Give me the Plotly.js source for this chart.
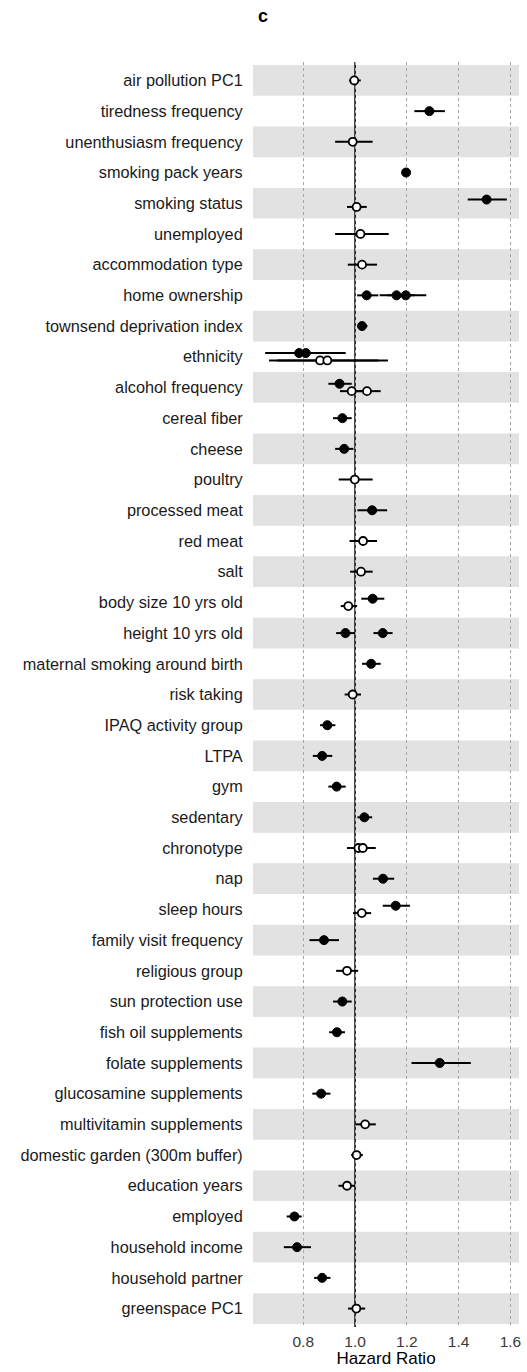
<!DOCTYPE html>
<html>
<head>
<meta charset="utf-8">
<script src="https://cdn.plot.ly/plotly-3.0.1.min.js"></script>
<style>
html,body{margin:0;padding:0;background:#fff;}
#chart{width:527px;height:1372px;}
</style>
</head>
<body>
<div id="chart"></div>
<script>
// Categories (top to bottom)
const categories = [
  "air pollution PC1","tiredness frequency","unenthusiasm frequency","smoking pack years",
  "smoking status","unemployed","accommodation type","home ownership",
  "townsend deprivation index","ethnicity","alcohol frequency","cereal fiber","cheese",
  "poultry","processed meat","red meat","salt","body size 10 yrs old","height 10 yrs old",
  "maternal smoking around birth","risk taking","IPAQ activity group","LTPA","gym",
  "sedentary","chronotype","nap","sleep hours","family visit frequency","religious group",
  "sun protection use","fish oil supplements","folate supplements","glucosamine supplements",
  "multivitamin supplements","domestic garden (300m buffer)","education years","employed",
  "household income","household partner","greenspace PC1"
];

// One entry per estimate
const pointCategory = [
  "air pollution PC1","tiredness frequency","unenthusiasm frequency","smoking pack years",
  "smoking status","smoking status","unemployed","accommodation type",
  "home ownership","home ownership","home ownership","townsend deprivation index",
  "ethnicity","ethnicity","ethnicity","ethnicity",
  "alcohol frequency","alcohol frequency","alcohol frequency","cereal fiber","cheese",
  "poultry","processed meat","red meat","salt",
  "body size 10 yrs old","body size 10 yrs old","height 10 yrs old","height 10 yrs old",
  "maternal smoking around birth","risk taking","IPAQ activity group","LTPA","gym",
  "sedentary","chronotype","chronotype","nap","sleep hours","sleep hours",
  "family visit frequency","religious group","sun protection use","fish oil supplements",
  "folate supplements","glucosamine supplements","multivitamin supplements",
  "domestic garden (300m buffer)","education years","employed","household income",
  "household partner","greenspace PC1"
];
const pointHR = [
  0.997,1.287,0.991,1.197,
  1.508,1.006,1.021,1.027,
  1.045,1.160,1.196,1.027,
  0.784,0.810,0.865,0.893,
  0.940,0.987,1.046,0.951,0.958,
  0.999,1.066,1.031,1.023,
  1.068,0.974,0.963,1.107,
  1.062,0.991,0.893,0.873,0.929,
  1.036,1.013,1.030,1.108,1.157,1.026,
  0.880,0.969,0.951,0.930,
  1.327,0.869,1.039,
  1.006,0.969,0.766,0.776,
  0.873,1.005
];
const pointLow = [
  0.977,1.229,0.923,1.190,
  1.435,0.969,0.923,0.972,
  1.008,1.095,1.125,1.013,
  0.653,0.680,0.668,0.700,
  0.897,0.942,0.995,0.915,0.923,
  0.937,1.009,0.979,0.981,
  1.024,0.945,0.927,1.071,
  1.027,0.960,0.865,0.837,0.897,
  1.009,0.969,0.985,1.069,1.107,0.992,
  0.824,0.927,0.915,0.900,
  1.218,0.835,1.001,
  0.985,0.936,0.736,0.725,
  0.842,0.973
];
const pointHigh = [
  1.022,1.347,1.068,1.205,
  1.586,1.045,1.130,1.085,
  1.090,1.230,1.275,1.048,
  0.930,0.964,1.090,1.127,
  0.987,1.030,1.099,0.987,0.994,
  1.068,1.124,1.085,1.068,
  1.113,1.008,1.000,1.145,
  1.099,1.023,0.924,0.912,0.964,
  1.066,1.060,1.080,1.151,1.212,1.062,
  0.938,1.012,0.987,0.961,
  1.447,0.905,1.080,
  1.030,1.000,0.794,0.830,
  0.905,1.039
];
// 1 = significant (filled), 0 = not significant (open)
const pointSig = [
  0,1,0,1,
  1,0,0,0,
  1,1,1,1,
  1,1,0,0,
  1,0,0,1,1,
  0,1,0,0,
  1,0,1,1,
  1,0,1,1,1,
  1,0,0,1,1,0,
  1,0,1,1,
  1,1,0,
  0,0,1,1,
  1,0
];
const xTicks = [0.8, 1.0, 1.2, 1.4, 1.6];
const xTickText = ["0.8", "1.0", "1.2", "1.4", "1.6"];

// --- build ---
const rowIndex = {};
categories.forEach((c, i) => rowIndex[c] = i);
const mixed = {};
categories.forEach(c => {
  const s = new Set();
  pointCategory.forEach((pc, k) => { if (pc === c) s.add(pointSig[k]); });
  mixed[c] = s.size > 1;
});
const DODGE = 0.12;
function buildTrace(sig) {
  const x = [], y = [], ep = [], em = [];
  pointCategory.forEach((c, k) => {
    if (pointSig[k] !== sig) return;
    let yy = rowIndex[c];
    if (mixed[c]) yy += sig ? -DODGE : DODGE;
    x.push(pointHR[k]); y.push(yy);
    ep.push(pointHigh[k] - pointHR[k]); em.push(pointHR[k] - pointLow[k]);
  });
  return {
    type: "scatter", mode: "markers", x, y, hoverinfo: "skip",
    error_x: {type: "data", array: ep, arrayminus: em, symmetric: false,
              color: "#000", thickness: 2, width: 0},
    marker: sig ? {symbol: "circle", size: 9, color: "#000", line: {color: "#000", width: 1}}
                : {symbol: "circle", size: 8, color: "#fff", line: {color: "#000", width: 1.8}},
    showlegend: false
  };
}

const shapes = [];
categories.forEach((c, i) => {
  if (i % 2 === 0) {
    shapes.push({type: "rect", layer: "below", xref: "paper", x0: 0, x1: 1,
      yref: "y", y0: i - 0.5, y1: i + 0.5, fillcolor: "#e2e2e2", line: {width: 0}});
  }
});
shapes.push({type: "line", layer: "between", xref: "x", x0: 1, x1: 1,
  yref: "paper", y0: 0, y1: 1, line: {color: "#000", width: 1.5}});

const FONT = "Liberation Sans, Arial, Helvetica, sans-serif";
const layout = {
  width: 527, height: 1372,
  margin: {l: 253, r: 8, t: 62, b: 45},
  paper_bgcolor: "#fff", plot_bgcolor: "#fff",
  font: {family: FONT, color: "#1a1a1a", size: 14},
  title: {text: "<b>c</b>", x: 263 / 527, xanchor: "center", xref: "container",
          y: 1 - 16 / 1372, yanchor: "middle", yref: "container",
          font: {size: 18, color: "#000", family: FONT}},
  xaxis: {
    range: [0.606, 1.633], tickvals: xTicks, ticktext: xTickText,
    showgrid: true, gridcolor: "#a6a6a6", griddash: "3px,3px", gridwidth: 1,
    zeroline: false, showline: false, ticks: "", ticklabelstandoff: 3,
    tickfont: {size: 15.5, color: "#3a3a3a"},
    title: {text: "Hazard Ratio", font: {size: 17, color: "#000"}, standoff: 0}
  },
  yaxis: {
    range: [categories.length - 0.4, -0.6],
    tickvals: categories.map((c, i) => i), ticktext: categories,
    showgrid: false, zeroline: false, showline: false,
    ticks: "outside", ticklen: 6, tickcolor: "rgba(0,0,0,0)",
    tickfont: {size: 16.3, color: "#1a1a1a"}
  },
  shapes: shapes
};

Plotly.newPlot("chart", [buildTrace(0), buildTrace(1)], layout, {displayModeBar: false, staticPlot: true});
</script>
</body>
</html>
